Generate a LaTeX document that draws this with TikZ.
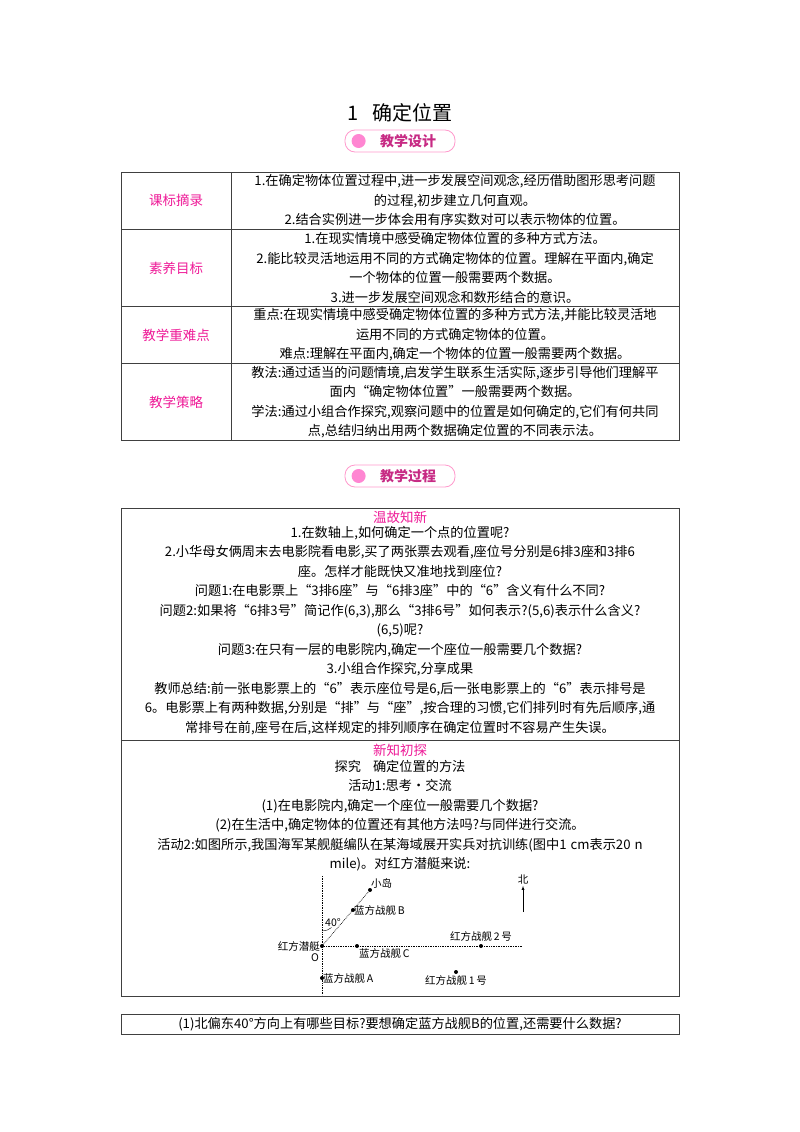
\documentclass[tikz,border=0pt]{standalone}
\usepackage{fontspec}
\setmainfont{Liberation Serif}
\newfontfamily\cjk{Noto Sans CJK SC}
\begin{document}
\begin{tikzpicture}[x=1pt,y=-1pt,
  box/.style={draw=black!75,line width=0.8pt},
  hd/.style={text=magenta!90!white,font=\cjk\fontsize{13.5}{15}\selectfont},
  txt/.style={font=\cjk\fontsize{13.2}{19.5}\selectfont,align=center,inner sep=0pt},
  lbl/.style={font=\cjk\fontsize{10.5}{12}\selectfont,inner sep=1pt},
  dot/.style={circle,fill=black,inner sep=0pt,minimum size=4pt},
  badge/.style={draw=pink!80!magenta,rounded corners=10pt,minimum width=110pt,minimum height=22pt,line width=0.8pt,text=magenta!80!black,font=\cjk\bfseries\fontsize{14}{16}\selectfont}]
\useasboundingbox (0,0) rectangle (800,1132);
\node[font=\cjk\fontsize{20}{22}\selectfont] (title) at (400,113) {1\hspace{14pt}确定位置};
\node[badge] (b1) at (400,141) {\hspace{16pt}教学设计};
\fill[pink!70!magenta] (b1.west)++(14,0) circle (7pt);
% table
\draw[box] (121,172) rectangle (679,440);
\foreach \y in {229,306,363} \draw[box] (121,\y) -- (679,\y);
\draw[box] (231,172) -- (231,440);
\node[hd] (h1) at (176,200) {课标摘录};
\node[hd] (h2) at (176,268) {素养目标};
\node[hd] (h3) at (176,335) {教学重难点};
\node[hd] (h4) at (176,402) {教学策略};
\node[txt] (c1) at (455,200) {1.在确定物体位置过程中,进一步发展空间观念,经历借助图形思考问题\\的过程,初步建立几何直观。\\2.结合实例进一步体会用有序实数对可以表示物体的位置。};
\node[txt] (c2) at (455,268) {1.在现实情境中感受确定物体位置的多种方式方法。\\2.能比较灵活地运用不同的方式确定物体的位置。理解在平面内,确定\\一个物体的位置一般需要两个数据。\\3.进一步发展空间观念和数形结合的意识。};
\node[txt] (c3) at (455,335) {重点:在现实情境中感受确定物体位置的多种方式方法,并能比较灵活地\\运用不同的方式确定物体的位置。\\难点:理解在平面内,确定一个物体的位置一般需要两个数据。};
\node[txt] (c4) at (455,402) {教法:通过适当的问题情境,启发学生联系生活实际,逐步引导他们理解平\\面内“确定物体位置”一般需要两个数据。\\学法:通过小组合作探究,观察问题中的位置是如何确定的,它们有何共同\\点,总结归纳出用两个数据确定位置的不同表示法。};
\node[badge] (b2) at (400,476) {\hspace{16pt}教学过程};
\fill[pink!70!magenta] (b2.west)++(14,0) circle (7pt);
% process box
\draw[box] (121,508) rectangle (679,996);
\draw[box] (121,740) -- (679,740);
\node[hd] (w) at (400,517) {温故知新};
\node[txt,anchor=north] (p1) at (400,526) {1.在数轴上,如何确定一个点的位置呢?\\
2.小华母女俩周末去电影院看电影,买了两张票去观看,座位号分别是6排3座和3排6\\
座。怎样才能既快又准地找到座位?\\
问题1:在电影票上“3排6座”与“6排3座”中的“6”含义有什么不同?\\
问题2:如果将“6排3号”简记作(6,3),那么“3排6号”如何表示?(5,6)表示什么含义?\\
(6,5)呢?\\
问题3:在只有一层的电影院内,确定一个座位一般需要几个数据?\\
3.小组合作探究,分享成果\\
教师总结:前一张电影票上的“6”表示座位号是6,后一张电影票上的“6”表示排号是\\
6。电影票上有两种数据,分别是“排”与“座”,按合理的习惯,它们排列时有先后顺序,通\\
常排号在前,座号在后,这样规定的排列顺序在确定位置时不容易产生失误。};
\node[hd] (x) at (400,750) {新知初探};
\node[txt,anchor=north] (p2) at (400,760) {探究\hspace{12pt}确定位置的方法\\
活动1:思考·交流\\
(1)在电影院内,确定一个座位一般需要几个数据?\\
(2)在生活中,确定物体的位置还有其他方法吗?与同伴进行交流。\\
活动2:如图所示,我国海军某舰艇编队在某海域展开实兵对抗训练(图中1\hspace{4pt}cm表示20\hspace{4pt}n\\
mile)。对红方潜艇来说:};
% diagram
\coordinate (vt) at (322,876); \coordinate (vb) at (322,995);
\coordinate (hr) at (523,946);
\node[dot] (O) at (322,946) {};
\node[dot] (isl) at (370,890) {};
\node[dot] (B) at (353,910) {};
\node[dot] (C) at (357,946) {};
\node[dot] (R2) at (481,946) {};
\node[dot] (A) at (322,978) {};
\node[dot] (R1) at (456,972) {};
\draw[densely dotted,line width=0.7pt] (vt) -- (vb);
\draw[densely dotted,line width=0.7pt] (O) -- (hr);
\draw[densely dotted,line width=0.7pt] (O) -- (isl);
\draw (322,931) arc[start angle=90,end angle=50,radius=15];
\node[lbl] at (333,923) {40°};
\node[lbl,above right] at (isl) {小岛};
\node[lbl,right] at (B) {蓝方战舰\,\textit{B}};
\node[lbl,below right=1pt] at (C) {蓝方战舰\,\textit{C}};
\node[lbl,above=3pt] at (R2) {红方战舰\,2\,号};
\node[lbl,right] at (A) {蓝方战舰\,\textit{A}};
\node[lbl,below=2pt] at (R1) {红方战舰\,1\,号};
\node[lbl,left=1pt] at (O) {红方潜艇};
\node[lbl] at (315,958) {\textit{O}};
\node[lbl] (N) at (523,880) {北};
\coordinate (nb) at (523,912);
\draw[-latex] (nb) -- (N);
% last box
\draw[box] (121,1014) rectangle (679,1034);
\node[txt] (q) at (400,1024) {(1)北偏东40°方向上有哪些目标?要想确定蓝方战舰B的位置,还需要什么数据?};
\end{tikzpicture}
\end{document}
